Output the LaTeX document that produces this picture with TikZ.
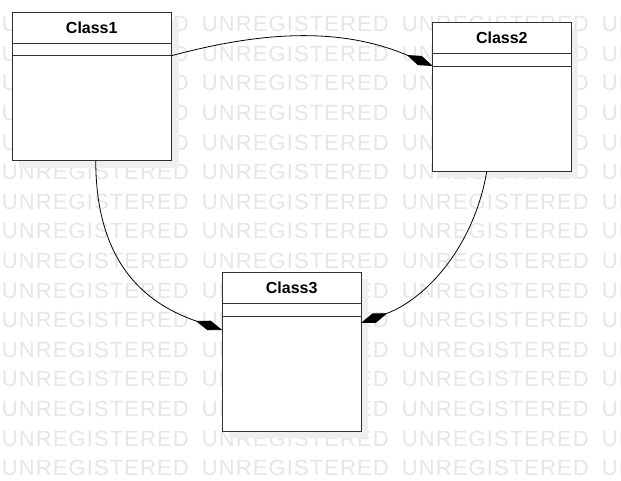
\documentclass[tikz,border=0pt]{standalone}
\usepackage{fontspec}
\setmainfont{Liberation Sans}
\newfontfamily\wmfont[LetterSpace=5]{Liberation Sans}
\usetikzlibrary{arrows.meta,positioning,calc}
\definecolor{wmgray}{HTML}{E6E6E6}
\definecolor{shadegray}{HTML}{EFEFEF}
\definecolor{edgegray}{HTML}{303030}

\begin{document}
\begin{tikzpicture}[x=1pt, y=-1pt, line width=.9pt,
            wmark/.style={
            text=wmgray,
            anchor=base west,
            inner sep=0,
            font=\wmfont\fontsize{22}{22}\selectfont},
            head/.style={
            draw=edgegray,
            fill=white,
            rectangle,
            anchor=north west,
            inner sep=0,
            outer sep=0,
            minimum height=31pt,
            font=\bfseries\fontsize{16}{16}\selectfont},
            attr/.style={
            draw=edgegray,
            fill=white,
            rectangle,
            inner sep=0,
            outer sep=0,
            minimum height=12.7pt},
            oper/.style={
            draw=edgegray,
            fill=white,
            rectangle,
            inner sep=0,
            outer sep=0},
            comp/.style={
            -{Diamond[length=28pt,width=10pt]},
            line width=.8pt,
            black}]

           \useasboundingbox (0,0) rectangle (621,481);
           \fill[white] (0,0) rectangle (621,481);
           \clip (0,0) rectangle (621,481);

           \foreach \k in {0,...,15}
           {
                      \foreach \j in {0,...,3}
                      \node[wmark] (wm\k-\j) at (200*\j + 1.5, 29.6*\k + 31.7) {UNREGISTERED};
           }

           \foreach \n/\x/\y/\w/\h in {1/12/12/159.5/105, 2/432.7/22.3/138.3/105, 3/222.3/272.3/138.7/115}
           {
                      \fill[shadegray] (\x + 7, \y + 7) rectangle (\x + \w + 7, \y + \h + 43.7 + 7);
                      \node[head, minimum width=\w pt] (cls\n) at (\x, \y) {Class\n};
                      \node[attr, minimum width=\w pt, below=0pt of cls\n] (att\n) {};
                      \node[oper, minimum width=\w pt, minimum height=\h pt, below=0pt of att\n] (ops\n) {};
           }

           \draw[comp] (ops1.north east) .. controls +(94.7,-25.4) and +(-90.2,-38.3) .. (ops2.north west);
           \draw[comp] ([xshift=4pt]ops1.south) .. controls +(0,109) and +(-70,-24) .. ([yshift=-14pt]ops3.north west);
           \draw[comp] ([xshift=-15pt]ops2.south) .. controls +(-12.7,75) and +(65.6,-24.3) .. ([yshift=-7pt]ops3.north east);
\end{tikzpicture}
\end{document}
